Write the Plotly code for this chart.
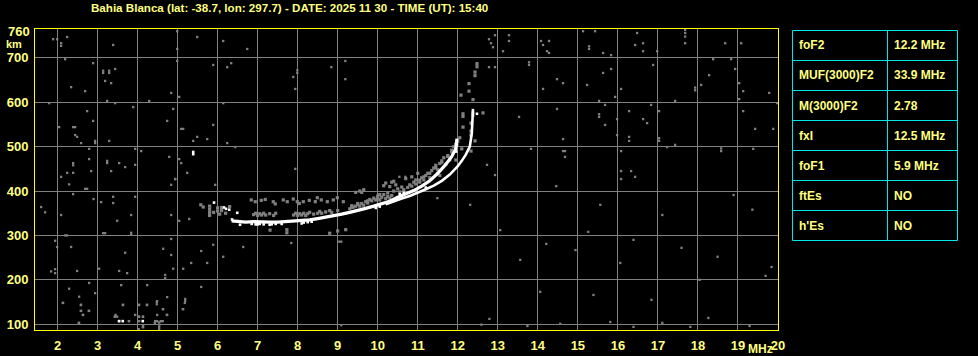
import plotly.graph_objects as go

# ---------------- data ----------------
title_text = "Bahia Blanca (lat: -38.7, lon: 297.7) - DATE: 2025 11 30 - TIME (UT): 15:40"
x_ticks = list(range(2, 21))
y_ticks = [100, 200, 300, 400, 500, 600, 700]
table_params = ["foF2", "MUF(3000)F2", "M(3000)F2", "fxI", "foF1", "ftEs", "h'Es"]
table_values = ["12.2 MHz", "33.9 MHz", "2.78", "12.5 MHz", "5.9 MHz", "NO", "NO"]

# ordinary trace (white)
o_freq = [6.35, 6.5, 6.7, 6.9, 7.1, 7.3, 7.5, 7.7, 7.9, 8.1, 8.3, 8.5, 8.7, 8.9, 9.1, 9.3,
          9.5, 9.7, 9.9, 10.1, 10.3, 10.5, 10.7, 10.9, 11.1, 11.3, 11.5, 11.7, 11.85, 11.95, 11.98]
o_height = [333, 331, 330, 331, 330, 330, 330, 331, 332, 334, 335, 338, 341, 344, 348, 352,
            356, 361, 366, 371, 377, 386, 393, 401, 411, 423, 440, 460, 478, 495, 518]
# extraordinary trace (white)
x_freq = [10.2, 10.4, 10.6, 10.8, 11.0, 11.2, 11.4, 11.6, 11.8, 12.0, 12.1, 12.2, 12.3, 12.35, 12.38]
x_height = [370, 377, 383, 389, 396, 404, 412, 423, 437, 456, 468, 482, 500, 530, 585]

# isolated strong echoes (white)
white_freq = [5.91, 6.16, 6.21, 6.29, 6.36, 6.49, 3.63, 4.13, 3.54, 5.39, 5.39, 6.56, 7.0, 7.3,
              7.6, 8.1, 12.48, 12.38, 11.96, 11.98, 6.85, 6.95, 7.05, 7.15, 7.35, 7.45, 8.15,
              8.25, 8.35, 9.95, 10.05, 10.55, 10.65, 11.2]
white_height = [374, 363, 360, 358, 336, 351, 107, 107, 107, 483, 488, 324, 325, 324,
                326, 327, 574, 577, 489, 505, 326, 325, 326, 325, 325, 326, 329,
                330, 331, 362, 365, 393, 396, 408]

# weaker echoes (grey)
echo_freq = [6.90, 6.95, 7.00, 7.05, 7.10, 7.15, 7.20, 7.30, 7.40, 7.45, 7.90, 7.95, 8.00, 8.05,
             8.10, 8.15, 8.20, 8.25, 8.30, 8.40, 8.50, 8.55, 8.60, 8.70, 8.80, 8.85, 9.00,
             6.84, 6.94, 7.09, 7.19, 7.39, 7.44, 7.64, 7.74, 7.89, 7.99, 8.04, 8.14, 8.29, 8.44,
             8.49, 8.59, 8.74, 8.89, 8.99, 9.14,
             5.80, 5.80, 5.80, 5.80, 5.90, 6.00, 6.00, 6.05, 6.10, 6.10, 6.20, 6.30, 5.64, 5.58,
             9.30, 9.35, 9.45, 9.50, 9.55, 9.60, 9.65, 9.75, 9.85, 9.95, 10.00, 10.05, 10.10,
             10.20, 10.25, 10.30, 10.35, 9.45, 9.55, 9.65, 9.60, 10.15, 10.20, 10.30, 10.40,
             10.45, 10.35,
             10.55, 10.65, 10.75, 10.85, 10.95, 10.95, 11.05, 11.10, 11.15, 11.20, 11.25, 11.30,
             11.35, 11.40, 11.45, 11.50, 11.55, 11.60, 11.65, 11.70, 11.75, 11.80, 11.85, 11.90,
             11.95, 12.00, 12.05, 10.85, 10.70, 11.00, 11.55, 11.95, 12.10,
             12.13, 12.13, 12.28, 12.28, 12.08, 12.38, 12.38, 12.63, 12.33, 12.13, 12.33, 12.33,
             12.43, 12.33, 12.43, 12.43, 12.48, 12.48,
             7.31, 7.73, 7.73, 8.80, 9.00, 9.20,
             9.40, 9.50, 9.70, 9.80, 9.90, 10.00, 10.15, 10.25, 10.40, 10.50, 10.60, 10.80,
             10.90, 11.05, 11.15, 11.30, 11.45, 11.60, 11.75, 11.85, 9.35, 9.75, 10.05]
echo_height = [347, 350, 345, 349, 346, 350, 346, 349, 345, 350, 346, 350, 345, 349,
               346, 350, 345, 349, 352, 348, 350, 354, 350, 353, 356, 352, 356,
               380, 376, 379, 381, 376, 371, 380, 376, 382, 376, 372, 376, 379, 376,
               385, 380, 376, 380, 385, 376,
               345, 352, 359, 366, 352, 355, 362, 348, 356, 363, 350, 365, 364, 369,
               360, 363, 366, 370, 366, 372, 368, 373, 378, 380, 384, 380, 386,
               383, 388, 384, 390, 397, 400, 403, 397, 412, 418, 410, 422,
               414, 420,
               398, 403, 408, 411, 416, 425, 420, 430, 425, 435, 440, 430,
               446, 452, 458, 448, 462, 468, 475, 460, 480, 470, 492, 500,
               505, 512, 520, 432, 428, 440, 435, 470, 495,
               568, 574, 642, 625, 616, 606, 571, 576, 553, 544, 535, 526,
               513, 490, 660, 668, 687, 680,
               312, 306, 313, 305, 310, 313,
               364, 372, 376, 381, 384, 389, 392, 396, 400, 405, 409, 414,
               420, 425, 432, 440, 452, 465, 478, 488, 367, 378, 392]

# background noise (grey)
noise_freq = [1.89, 1.99, 2.09, 2.09, 2.24, 2.19, 2.89, 3.14, 3.14, 3.29, 3.29, 3.44, 3.39, 3.19,
              3.34, 2.34, 2.69, 3.24, 3.44, 1.79, 2.74, 2.89, 2.04, 2.39, 2.44, 2.44, 2.49, 2.59,
              2.94, 2.94, 3.29, 2.79, 2.79, 2.39, 2.39, 3.24, 3.24, 3.54, 3.69, 3.94, 3.94, 4.09,
              3.89, 4.29, 3.34, 2.84, 2.24, 2.39, 2.09, 4.99, 5.49, 4.99, 4.99, 4.84, 5.04, 4.89,
              4.74, 5.09, 5.14, 5.49, 5.39, 5.74, 5.89, 4.79, 5.04, 5.09, 5.24, 4.94, 6.14, 6.74,
              5.89, 6.24, 6.34, 6.14, 6.24, 6.44, 7.99, 7.99, 7.89, 7.94, 8.84, 9.19, 9.19, 7.94,
              10.54, 10.69,
              12.93, 12.78, 12.83, 12.88, 13.28, 13.28, 13.13, 14.08, 14.28, 14.13, 14.23, 14.28,
              15.13, 15.43, 15.28, 15.28, 15.63, 15.83, 16.48, 16.43, 16.63, 16.63, 16.98, 17.68,
              17.68, 17.68, 17.68, 18.68, 19.08, 18.38, 18.83, 18.93, 18.28, 18.08, 17.93, 17.93,
              19.03, 19.13, 19.78, 19.03, 17.43, 16.88, 15.83, 15.63, 16.08, 15.23, 14.48, 14.63,
              14.13, 13.78, 13.78, 12.78, 12.93, 15.93, 15.53, 15.68, 16.83, 17.03, 16.28, 14.48,
              13.53, 15.53, 15.53, 15.98, 16.63, 16.73, 15.68, 19.13, 19.43, 19.88, 19.98, 15.98,
              16.28, 16.28, 14.63, 17.03, 17.03, 17.23, 17.43, 18.58, 18.58, 19.38, 13.83, 14.63,
              14.68, 14.68, 16.08, 16.08, 16.33, 16.43, 16.08, 12.73, 12.93,
              2.29, 2.39, 2.69, 2.74, 2.90, 3.09, 3.39, 3.39, 3.94, 1.59, 1.69, 2.09, 3.84, 4.84,
              4.84, 4.94, 5.04, 5.29, 5.94, 3.49, 3.14, 3.19, 3.84, 3.84, 2.19, 2.24, 1.94, 1.99,
              2.34, 4.84, 4.64, 4.84, 3.69, 5.59, 5.89, 6.14, 6.64, 7.84, 9.04, 9.09, 5.74, 5.34,
              5.14, 4.89, 4.69, 4.69, 3.74, 3.54, 3.04, 2.49, 1.84, 1.94, 1.94, 2.79, 3.59, 4.24,
              5.59, 2.29, 2.94, 2.54, 2.14, 2.59, 2.59, 2.79, 2.64, 3.64, 4.04, 4.24, 4.49, 4.74,
              5.19, 5.19, 5.14, 4.64, 4.74, 4.49, 3.44, 3.49, 3.94, 4.04, 4.14, 3.79, 4.04, 4.14,
              4.14, 4.54, 4.54, 4.54, 4.54, 4.44, 4.49, 4.59, 2.54, 9.09,
              2.13, 2.58, 2.58, 2.78, 2.63, 2.53, 3.43, 3.45, 3.53, 3.78, 3.63, 4.03, 4.23, 4.03,
              4.13, 4.03, 4.13, 4.03, 4.48, 4.48, 4.63, 4.73, 4.43, 4.48, 4.63, 4.58, 5.13, 5.18,
              11.49, 12.31, 13.06, 13.56, 14.06, 14.46, 14.94, 15.26, 15.56, 16.06, 16.39, 16.84,
              17.11, 17.59, 18.04, 18.49, 18.89, 19.36, 19.69, 19.84, 15.81, 16.39, 17.81, 19.29,
              13.74, 12.79, 12.59, 14.56, 17.11, 18.26, 15.39, 14.21]
noise_height = [742, 742, 733, 727, 747, 697, 688, 671, 666, 671, 666, 675, 729, 648,
                643, 634, 625, 603, 598, 598, 580, 558, 544, 544, 544, 526, 522, 508,
                513, 508, 513, 495, 472, 463, 458, 468, 463, 463, 454, 459, 495, 490,
                589, 603, 445, 445, 441, 441, 432, 760, 747, 720, 693, 621, 612, 585,
                558, 540, 540, 522, 513, 517, 549, 477, 472, 463, 441, 427, 738, 720,
                684, 679, 688, 598, 508, 499, 672, 666, 657, 630, 679, 693, 652, 450,
                432, 432,
                751, 742, 733, 724, 751, 738, 715, 738, 738, 729, 715, 711,
                760, 760, 726, 720, 711, 706, 756, 729, 733, 715, 715, 763,
                756, 748, 733, 733, 733, 697, 697, 675, 661, 639, 633, 627,
                643, 625, 621, 607, 603, 684, 675, 666, 630, 639, 652, 643,
                630, 690, 684, 679, 679, 612, 603, 594, 594, 580, 580, 585,
                567, 573, 567, 562, 562, 553, 549, 580, 540, 540, 598, 526,
                522, 513, 517, 519, 513, 499, 504, 496, 490, 495, 495, 490,
                490, 477, 490, 445, 445, 432, 427, 459, 436,
                415, 393, 405, 405, 382, 375, 387, 373, 387, 364, 352, 346, 346, 414,
                346, 427, 333, 337, 414, 333, 305, 305, 302, 306, 300, 300, 288, 274,
                274, 292, 270, 256, 261, 265, 279, 252, 274, 283, 286, 286, 238, 238,
                225, 225, 211, 204, 215, 220, 225, 220, 219, 224, 215, 193, 188, 188,
                184, 180, 170, 162, 148, 144, 130, 130, 121, 144, 144, 144, 152, 161,
                152, 157, 134, 134, 121, 121, 117, 117, 121, 117, 117, 107, 107, 98,
                93, 89, 94, 99, 104, 107, 107, 107, 103, 98,
                148, 143, 130, 130, 121, 103, 117, 121, 107, 107, 143, 143, 143, 117,
                117, 107, 94, 89, 145, 150, 134, 121, 103, 107, 107, 107, 134, 148,
                384, 369, 312, 245, 173, 411, 267, 308, 369, 238, 290, 155,
                346, 272, 200, 252, 391, 358, 209, 229, 105, 94, 94, 96,
                96, 112, 99, 101, 103, 114, 166, 281]

# ---------------- figure ----------------
PALE = "#ffff80"
GRID = "#808080"
CYAN = "#00e8e8"
W, H = 978, 356
ML, MR, MT, MB = 35, 200, 29, 26
PW, PH = W - ML - MR, H - MT - MB


def px2paper(px, py):
    return (px - ML) / PW, (H - MB - py) / PH


fig = go.Figure()
fig.add_trace(go.Scatter(x=noise_freq, y=noise_height, mode="markers",
                         marker=dict(symbol="square", size=2.3, color=GRID, line=dict(width=0)),
                         hoverinfo="skip", showlegend=False))
fig.add_trace(go.Scatter(x=echo_freq, y=echo_height, mode="markers",
                         marker=dict(symbol="square", size=3.2, color=GRID, line=dict(width=0)),
                         hoverinfo="skip", showlegend=False))
fig.add_trace(go.Scatter(x=o_freq, y=o_height, mode="lines",
                         line=dict(color="#ffffff", width=3.2),
                         hoverinfo="skip", showlegend=False))
fig.add_trace(go.Scatter(x=x_freq, y=x_height, mode="lines",
                         line=dict(color="#ffffff", width=2.6),
                         hoverinfo="skip", showlegend=False))
fig.add_trace(go.Scatter(x=white_freq, y=white_height, mode="markers",
                         marker=dict(symbol="square", size=2.6, color="#ffffff", line=dict(width=0)),
                         hoverinfo="skip", showlegend=False))

font_main = "Liberation Sans, Arial, sans-serif"

fig.update_layout(
    width=W, height=H,
    margin=dict(l=ML, r=MR, t=MT, b=MB, pad=0, autoexpand=False),
    paper_bgcolor="#000000", plot_bgcolor="#000000",
    font=dict(family=font_main, color=PALE, size=12),
    xaxis=dict(range=[1.4375, 20.0], tickvals=x_ticks, ticktext=[str(v) for v in x_ticks],
               showgrid=True, gridcolor=GRID, gridwidth=1, zeroline=False,
               showline=True, linecolor="#ffff00", linewidth=1, mirror=True,
               ticks="", ticklabelstandoff=3, automargin=False,
               tickfont=dict(family=font_main, size=13, color=PALE, weight="bold")),
    yaxis=dict(range=[87, 765], tickvals=y_ticks, ticktext=[str(v) for v in y_ticks],
               showgrid=True, gridcolor=GRID, gridwidth=1, zeroline=False,
               showline=True, linecolor="#ffff00", linewidth=1, mirror=True,
               ticks="", ticklabelstandoff=3, automargin=False,
               tickfont=dict(family=font_main, size=13, color=PALE, weight="bold")),
)

ann = []
tx, ty = px2paper(289, 7.5)
ann.append(dict(text=title_text, x=tx, y=ty, xref="paper", yref="paper", xanchor="center",
                yanchor="middle", showarrow=False,
                font=dict(family=font_main, size=11.6, color=PALE, weight="bold")))
kx, ky = px2paper(32, 32)
ann.append(dict(text="760", x=kx, y=ky, xref="paper", yref="paper", xanchor="right",
                yanchor="middle", showarrow=False,
                font=dict(family=font_main, size=13, color=PALE, weight="bold")))
kx, ky = px2paper(14, 44)
ann.append(dict(text="km", x=kx, y=ky, xref="paper", yref="paper", xanchor="center",
                yanchor="middle", showarrow=False,
                font=dict(family=font_main, size=11, color=PALE, weight="bold")))
kx, ky = px2paper(760, 349)
ann.append(dict(text="MHz", x=kx, y=ky, xref="paper", yref="paper", xanchor="center",
                yanchor="middle", showarrow=False,
                font=dict(family=font_main, size=12, color=PALE, weight="bold")))

# table
shapes = []
T_L, T_M, T_R, T_T, ROW = 792.5, 887.5, 957.5, 30.5, 30
n = len(table_params)
x0, y0 = px2paper(T_L, T_T)
x1, y1 = px2paper(T_R, T_T + n * ROW)
shapes.append(dict(type="rect", xref="paper", yref="paper", x0=x0, y0=y0, x1=x1, y1=y1,
                   line=dict(color=CYAN, width=1)))
xm, _ = px2paper(T_M, 0)
shapes.append(dict(type="line", xref="paper", yref="paper", x0=xm, x1=xm, y0=y0, y1=y1,
                   line=dict(color=CYAN, width=1)))
for i in range(1, n):
    _, yy = px2paper(0, T_T + i * ROW)
    shapes.append(dict(type="line", xref="paper", yref="paper", x0=x0, x1=x1, y0=yy, y1=yy,
                       line=dict(color=CYAN, width=1)))
for i, (p, v) in enumerate(zip(table_params, table_values)):
    ax, ay = px2paper(797, T_T + i * ROW + ROW / 2)
    ann.append(dict(text=p, x=ax, y=ay, xref="paper", yref="paper", xanchor="left",
                    yanchor="middle", showarrow=False,
                    font=dict(family=font_main, size=12, color=PALE, weight="bold")))
    bx, _ = px2paper(892, 0)
    ann.append(dict(text=v, x=bx, y=ay, xref="paper", yref="paper", xanchor="left",
                    yanchor="middle", showarrow=False,
                    font=dict(family=font_main, size=12, color=PALE, weight="bold")))

fig.update_layout(annotations=ann, shapes=shapes)
fig.write_html("out.html")
